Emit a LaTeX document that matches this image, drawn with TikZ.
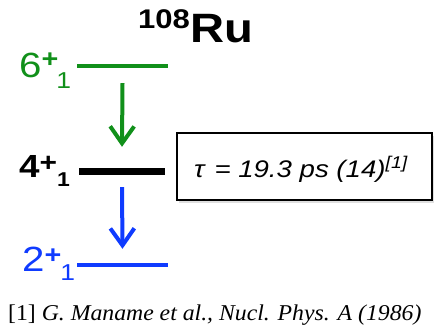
\documentclass[tikz,border=0pt]{standalone}
\usepackage{fontspec}
\setmainfont{Liberation Serif}
\setsansfont{Liberation Sans}
\newfontfamily\labfont[FakeStretch=1.15]{Liberation Sans}
\newfontfamily\reffont[FakeStretch=1.05]{Liberation Serif}
\usetikzlibrary{arrows.meta, shadows}
\definecolor{levgreen}{RGB}{17,144,26}
\definecolor{levblue}{RGB}{15,59,255}

\begin{document}
\begin{tikzpicture}[x=1pt, y=-1pt,
  lev/.style={rectangle, inner sep=0pt, minimum width=91pt, minimum height=4pt},
  levlab/.style={anchor=base west, inner sep=0pt, font=\labfont\fontsize{35}{35}\selectfont},
  garr/.style={-{Straight Barb[length=17pt, width=24pt]}, line width=4pt},
  tbox/.style={rectangle, draw=black, line width=2.7pt, fill=white,
               minimum width=255pt, minimum height=67pt, inner sep=0pt,
               drop shadow={shadow xshift=2pt, shadow yshift=-3pt, opacity=0.25}}
]
\useasboundingbox (0,0) rectangle (434,336);

% ── Title ────────────────────────────────────────────────────────────────
\node[anchor=base west, inner sep=0pt, font=\labfont\bfseries\fontsize{41}{41}\selectfont]
      (title) at (138,43) {\raisebox{14.7pt}{\fontsize{27}{27}\selectfont 108}Ru};

% ── Levels ───────────────────────────────────────────────────────────────
\node[lev, fill=levgreen] (l6) at (122.5,66) {};
\node[lev, fill=black, minimum width=86pt, minimum height=7pt] (l4) at (122,171.5) {};
\node[lev, fill=levblue] (l2) at (122.5,265) {};

% ── Level labels ─────────────────────────────────────────────────────────
\node[levlab, text=levgreen] (t6) at (19,78)
      {6\raisebox{10pt}{\bfseries\fontsize{25}{25}\selectfont +}\kern-2pt\raisebox{-11pt}{\fontsize{23}{23}\selectfont 1}};
\node[levlab, font=\labfont\bfseries\fontsize{32}{32}\selectfont] (t4) at (19,178)
      {4\raisebox{6pt}{\fontsize{26}{26}\selectfont +}\raisebox{-9pt}{\fontsize{20}{20}\selectfont 1}};
\node[levlab, text=levblue] (t2) at (22,272)
      {2\raisebox{8pt}{\bfseries\fontsize{25}{25}\selectfont +}\kern-1pt\raisebox{-9pt}{\fontsize{23}{23}\selectfont 1}};

% ── Transitions ──────────────────────────────────────────────────────────
\draw[garr, levgreen] ([yshift=-15pt]l6.south) -- ([yshift=21pt]l4.north);
\draw[garr, levblue]  ([yshift=-12pt]l4.south) -- ([yshift=14pt]l2.north);

% ── Lifetime box ─────────────────────────────────────────────────────────
\node[tbox] (tau) at (304.5,166.5) {};
\node[anchor=base west, inner sep=0pt, font=\labfont\itshape\fontsize{24}{24}\selectfont]
      (taulab) at (194,178)
      {τ\hspace{10pt}=\ 19.3 ps (14)\raisebox{9pt}{\fontsize{17}{17}\selectfont [1]}};

% ── Reference ────────────────────────────────────────────────────────────
\node[anchor=base west, inner sep=0pt, font=\reffont\fontsize{22.6}{22.6}\selectfont]
      (ref) at (8,321) {[1] \textit{G. Maname et al., Nucl. Phys. A (1986)}};

\end{tikzpicture}
\end{document}
